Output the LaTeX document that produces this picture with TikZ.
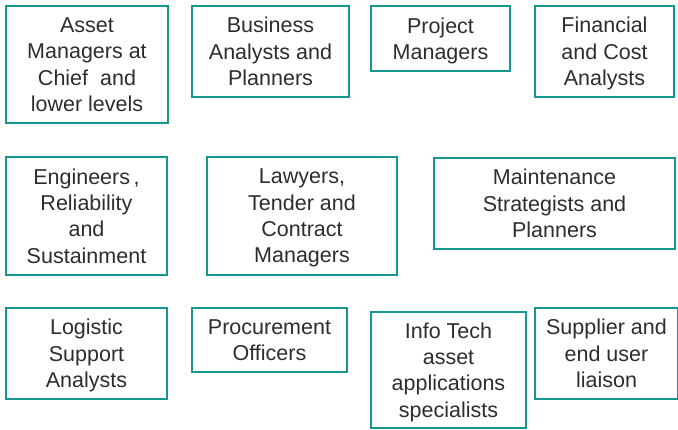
\documentclass[tikz,border=0pt]{standalone}
\usepackage{fontspec}
\setmainfont{Liberation Sans}
\definecolor{teal1}{RGB}{22,150,145}
\definecolor{txt}{RGB}{45,45,45}
\begin{document}
\begin{tikzpicture}[x=1pt,y=-1pt,
  box/.style={draw=teal1,line width=2pt,inner sep=0pt,align=center,text=txt,
    text depth=-1pt,font=\fontsize{21.5}{26.3}\selectfont}]
\useasboundingbox (0,0) rectangle (678,429);
\newcommand{\bx}[6]{\node[box,minimum width=#4-#2,minimum height=#5-#3] (#1) at ({(#2+#4)/2},{(#3+#5)/2}) {#6};}
\bx{asset}{6}{6}{168}{123}{Asset\\Managers at\\Chief\ \ and\\lower levels}
\bx{business}{192}{6}{349}{97}{Business\\Analysts and\\Planners}
\bx{project}{371}{6}{510}{71}{Project\\Managers}
\bx{financial}{535}{6}{674}{97}{Financial\\and Cost\\Analysts}
\bx{engineers}{6}{157}{167}{275}{Engineers\,,\\Reliability\\and\\Sustainment}
\bx{lawyers}{207}{157}{397}{275}{Lawyers,\\Tender and\\Contract\\Managers}
\bx{maint}{434}{158}{675}{249}{Maintenance\\Strategists and\\Planners}
\bx{logistic}{6}{308}{167}{399}{Logistic\\Support\\Analysts}
\bx{procure}{192}{308}{347}{372}{Procurement\\Officers}
\bx{infotech}{371}{312}{526}{428}{Info Tech\\asset\\applications\\specialists}
\bx{supplier}{535}{308}{678}{399}{Supplier and\\end user\\liaison}
\end{tikzpicture}
\end{document}
